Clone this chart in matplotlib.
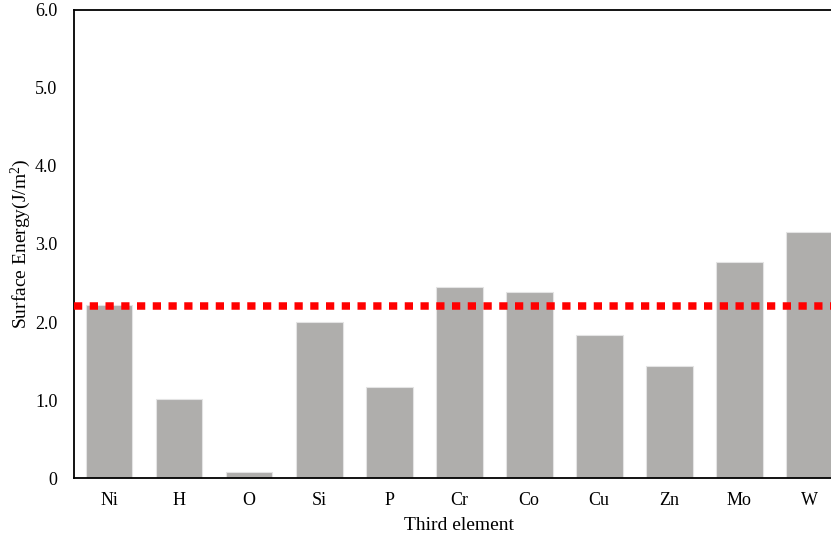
import matplotlib.pyplot as plt
import numpy as np

plt.rcParams['font.family'] = ['Liberation Serif', 'DejaVu Serif']
plt.rcParams['mathtext.fontset'] = 'custom'
plt.rcParams['mathtext.rm'] = 'Liberation Serif'

elements = ["Ni", "H", "O", "Si", "P", "Cr", "Co", "Cu", "Zn", "Mo", "W"]
energy = [2.22, 1.01, 0.08, 2.00, 1.17, 2.45, 2.39, 1.83, 1.44, 2.77, 3.16]
ni_ref = 2.2  # pure Ni reference line
yticks = [0, 1.0, 2.0, 3.0, 4.0, 5.0, 6.0]
ytick_labels = ["0", "1.0", "2.0", "3.0", "4.0", "5.0", "6.0"]

fig = plt.figure(figsize=(8.31, 5.40), dpi=100)
ax = fig.add_axes([0.089, 0.1148, 0.927, 0.8667])

x = np.arange(len(elements))
ax.bar(x, energy, width=0.67, color="#afaeac", edgecolor="#e4e4e4", linewidth=0.8, zorder=2)
ax.axhline(ni_ref, color="#ff0000", linewidth=5.4, linestyle=(0, (1.1, 1.0)),
           dash_capstyle="butt", zorder=3)

ax.set_xlim(-0.5, len(elements) - 0.5)
ax.set_ylim(0, 6)
ax.set_xticks(x)
ax.set_xticklabels(elements, fontsize=13)
ax.set_yticks(yticks)
ax.set_yticklabels(ytick_labels, fontsize=13)
ax.tick_params(length=0)
ax.tick_params(axis="y", pad=12)
ax.tick_params(axis="x", pad=10)

for s in ax.spines.values():
    s.set_linewidth(1.3)
ax.spines["right"].set_visible(False)

ax.set_xlabel("Third element", fontsize=14, labelpad=6)
ax.set_ylabel(r"Surface Energy(J/m$\mathregular{^2}$)", fontsize=14, labelpad=1.5)

fig.savefig("out.png", dpi=100)
